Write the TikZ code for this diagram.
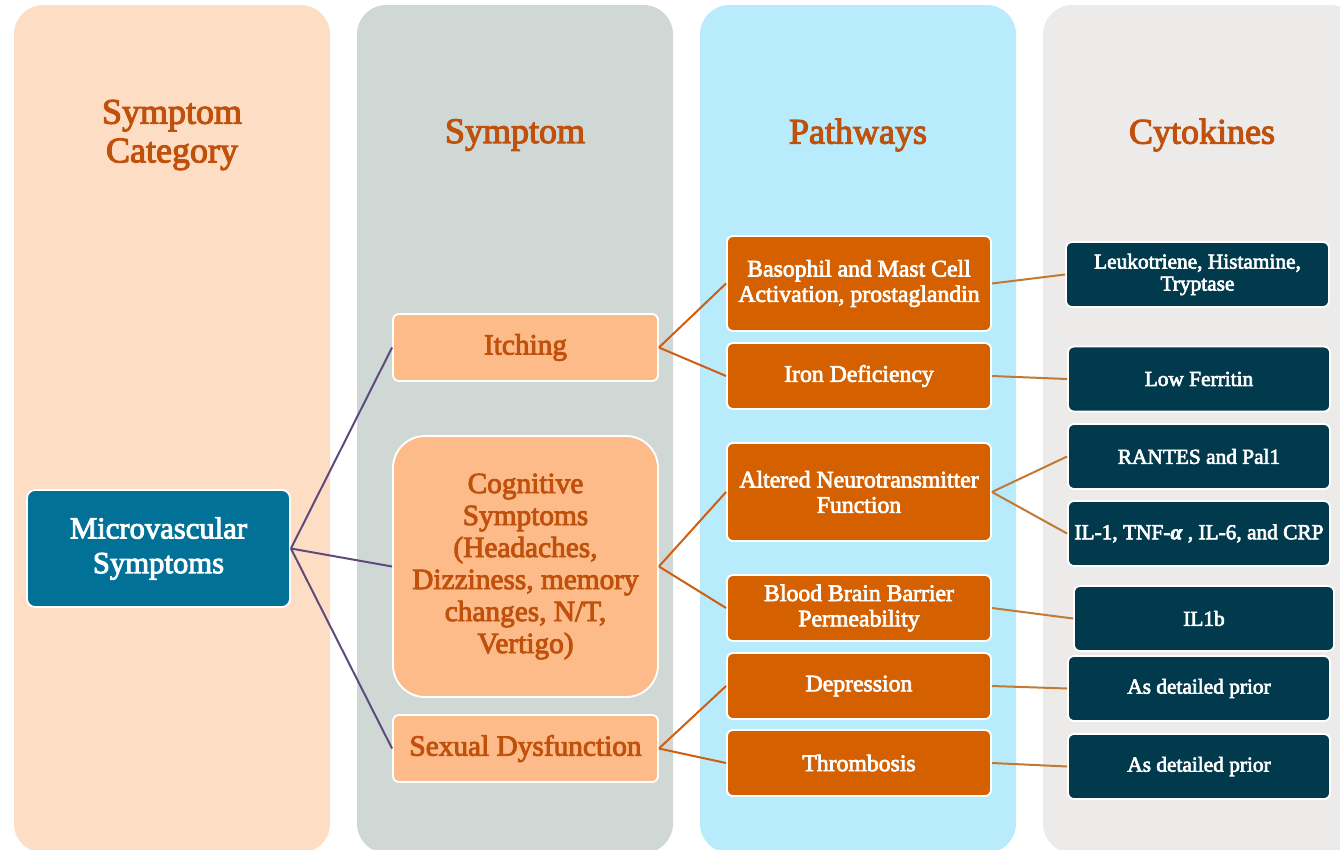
\documentclass[tikz,border=0pt]{standalone}
\usepackage{fontspec}
\setmainfont{Liberation Serif}[FakeBold=3]
\definecolor{colA}{HTML}{FDDEC4}
\definecolor{colB}{HTML}{CFD8D5}
\definecolor{colC}{HTML}{B8ECFD}
\definecolor{colD}{HTML}{ECEBE9}
\definecolor{headtxt}{HTML}{C0510C}
\definecolor{rootfill}{HTML}{027198}
\definecolor{symfill}{HTML}{FCBB88}
\definecolor{pathfill}{HTML}{D56000}
\definecolor{cytofill}{HTML}{013A4D}
\definecolor{linkA}{HTML}{5E4B7C}
\definecolor{linkB}{HTML}{D05E0E}
\definecolor{linkC}{HTML}{C17A35}
\begin{document}
\begin{tikzpicture}[x=0.75pt,y=-0.75pt,
  column/.style={fill=#1,draw=none,rounded corners=22pt},
  header/.style={text=headtxt,font=\fontsize{27}{29}\selectfont,align=center},
  box/.style={draw=white,line width=1.4pt,rounded corners=4.5pt,align=center,inner sep=2pt},
  rootbox/.style={box,fill=rootfill,text=white,rounded corners=6pt,
    font=\fontsize{23}{26}\selectfont,
    minimum width=263*0.75pt,minimum height=117*0.75pt},
  symbox/.style={box,fill=symfill,text=headtxt,
    font=\fontsize{22}{24}\selectfont,
    minimum width=265*0.75pt},
  pathbox/.style={box,fill=pathfill,text=white,
    font=\fontsize{17.8}{19}\selectfont,
    minimum width=264*0.75pt},
  cytobox/.style={box,fill=cytofill,text=white,
    font=\fontsize{16}{16.5}\selectfont,
    minimum width=262*0.75pt,minimum height=65*0.75pt},
  linkroot/.style={draw=linkA,line width=1.5pt},
  linksym/.style={draw=linkB,line width=1.5pt},
  linkpath/.style={draw=linkC,line width=1.5pt}]

\useasboundingbox (0,0) rectangle (1340,850);
\clip (0,0) rectangle (1340,850);

% four background columns
\path[column=colA] (14,5) rectangle (330,853);
\path[column=colB] (357,5) rectangle (673,853);
\path[column=colC] (700,5) rectangle (1016,853);
\path[column=colD] (1043,5) rectangle (1359,853);

% column titles
\node[header] (hcat) at (172,135) {Symptom\\Category};
\node[header] (hsym) at (515,135) {Symptom};
\node[header] (hpath) at (858,135) {Pathways};
\node[header] (hcyto) at (1202,135) {Cytokines};

% root
\node[rootbox] (micro) at (158.5,548.5) {Microvascular\\Symptoms};

% symptoms
\node[symbox,minimum height=67*0.75pt] (itch) at (525.5,347.5) {Itching};
\node[symbox,minimum height=261*0.75pt,rounded corners=24pt] (cog) at (525.5,566.5)
  {Cognitive\\Symptoms\\(Headaches,\\Dizziness, memory\\changes, N/T,\\Vertigo)};
\node[symbox,minimum height=67*0.75pt] (sex) at (525.5,748.5) {Sexual Dysfunction};

% pathways
\node[pathbox,minimum height=95*0.75pt] (bas) at (859,283.5) {Basophil and Mast Cell\\Activation, prostaglandin};
\node[pathbox,minimum height=66*0.75pt] (iron) at (859,376) {Iron Deficiency};
\node[pathbox,minimum height=98*0.75pt] (alt) at (859,492) {Altered Neurotransmitter\\Function};
\node[pathbox,minimum height=66*0.75pt] (bbb) at (859,608) {Blood Brain Barrier\\Permeability};
\node[pathbox,minimum height=66*0.75pt] (dep) at (859,686) {Depression};
\node[pathbox,minimum height=66*0.75pt] (thr) at (859,763) {Thrombosis};

% cytokines
\node[cytobox,minimum width=263*0.75pt] (leu) at (1197.5,274.5) {Leukotriene, Histamine,\\Tryptase};
\node[cytobox] (fer) at (1199,379) {Low Ferritin};
\node[cytobox] (ran) at (1199,456.5) {RANTES and Pal1};
\node[cytobox] (il) at (1199,533.5) {IL-1, TNF-\textbf{\textit{α}} , IL-6, and CRP};
\node[cytobox,minimum width=260*0.75pt] (ilb) at (1204,618.5) {IL1b};
\node[cytobox] (adp1) at (1199,688.5) {As detailed prior};
\node[cytobox] (adp2) at (1199,766.5) {As detailed prior};

% connectors
\draw[linkroot] (micro.east) -- (itch.west);
\draw[linkroot] (micro.east) -- (cog.west);
\draw[linkroot] (micro.east) -- (sex.west);

\draw[linksym] (itch.east) -- (bas.west);
\draw[linksym] (itch.east) -- (iron.west);
\draw[linksym] (cog.east) -- (alt.west);
\draw[linksym] (cog.east) -- (bbb.west);
\draw[linksym] (sex.east) -- (dep.west);
\draw[linksym] (sex.east) -- (thr.west);

\draw[linkpath] (bas.east) -- (leu.west);
\draw[linkpath] (iron.east) -- (fer.west);
\draw[linkpath] (alt.east) -- (ran.west);
\draw[linkpath] (alt.east) -- (il.west);
\draw[linkpath] (bbb.east) -- (ilb.west);
\draw[linkpath] (dep.east) -- (adp1.west);
\draw[linkpath] (thr.east) -- (adp2.west);
\end{tikzpicture}
\end{document}
